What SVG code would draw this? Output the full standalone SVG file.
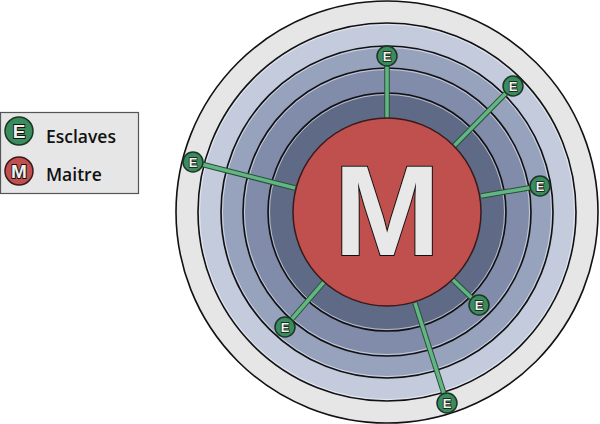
<svg xmlns="http://www.w3.org/2000/svg" width="600" height="424" viewBox="0 0 600 424">
<style>
.ring{stroke:#111;stroke-width:1.6}
.hl{fill:none;stroke:#fff;stroke-opacity:0.55;stroke-width:1}
.eNode{fill:#3b8c5c;stroke:#1c3526;stroke-width:1.5}
.mNode{fill:#c0504d;stroke:#3a1a1a;stroke-width:1.5}
.lnOut{stroke:#274f37;stroke-width:5.5;stroke-linecap:butt}
.lnIn{stroke:#63b584;stroke-width:3.5;stroke-linecap:butt}
.eTxt{font-family:"Liberation Sans",Arial,sans-serif;font-weight:bold;font-size:13px;fill:#f0f0f0;stroke:#111;stroke-width:1.4;text-anchor:middle;paint-order:stroke}
.lgTxt{font-family:"Open Sans","Liberation Sans",sans-serif;font-weight:600;font-size:17.5px;fill:#111}
</style>
<rect width="600" height="424" fill="#fff"/>
<g id="rings">
<circle class="ring" cx="387" cy="212" r="211" fill="#e6e6e6"/>
<circle class="ring" cx="387" cy="212" r="189" fill="#c4cbdd"/>
<circle class="hl" cx="387" cy="212" r="187.5"/>
<circle class="ring" cx="387" cy="212" r="166" fill="#97a2bd"/>
<circle class="hl" cx="387" cy="212" r="164.5"/>
<circle class="ring" cx="387" cy="212" r="144" fill="#808ca9"/>
<circle class="hl" cx="387" cy="212" r="142.5"/>
<circle class="ring" cx="387" cy="212" r="119" fill="#5f6a87"/>
<circle class="hl" cx="387" cy="212" r="117.5"/>
</g>
<g id="connectors">
<line class="lnOut" x1="387" y1="118" x2="387" y2="60"/>
<line class="lnIn" x1="387" y1="118" x2="387" y2="60"/>
<line class="lnOut" x1="454" y1="146" x2="513" y2="86"/>
<line class="lnIn" x1="454" y1="146" x2="513" y2="86"/>
<line class="lnOut" x1="481" y1="196" x2="540" y2="186"/>
<line class="lnIn" x1="481" y1="196" x2="540" y2="186"/>
<line class="lnOut" x1="295" y1="188" x2="193" y2="162"/>
<line class="lnIn" x1="295" y1="188" x2="193" y2="162"/>
<line class="lnOut" x1="324" y1="282" x2="285" y2="327"/>
<line class="lnIn" x1="324" y1="282" x2="285" y2="327"/>
<line class="lnOut" x1="452" y1="279" x2="479" y2="305"/>
<line class="lnIn" x1="452" y1="279" x2="479" y2="305"/>
<line class="lnOut" x1="415" y1="303" x2="447" y2="403"/>
<line class="lnIn" x1="415" y1="303" x2="447" y2="403"/>
</g>
<g id="maitre">
<circle class="mNode" cx="387" cy="212" r="94"/>
<text x="387" y="255" text-anchor="middle" font-family="'Liberation Sans',Arial,sans-serif" font-weight="bold" font-size="128" fill="#e8e8e8" stroke="#111" stroke-width="2" paint-order="stroke">M</text>
</g>
<g id="e1"><circle class="eNode" cx="387" cy="56" r="10"/><text class="eTxt" x="387" y="61">E</text></g>
<g id="e2"><circle class="eNode" cx="513" cy="86" r="10"/><text class="eTxt" x="513" y="91">E</text></g>
<g id="e3"><circle class="eNode" cx="540" cy="186" r="10"/><text class="eTxt" x="540" y="191">E</text></g>
<g id="e4"><circle class="eNode" cx="193" cy="162" r="10"/><text class="eTxt" x="193" y="167">E</text></g>
<g id="e5"><circle class="eNode" cx="285" cy="327" r="10"/><text class="eTxt" x="285" y="332">E</text></g>
<g id="e6"><circle class="eNode" cx="479" cy="305" r="10"/><text class="eTxt" x="479" y="310">E</text></g>
<g id="e7"><circle class="eNode" cx="447" cy="403" r="10"/><text class="eTxt" x="447" y="408">E</text></g>
<g id="legend">
<rect x="0.5" y="112.5" width="138" height="81" fill="#e6e6e6" stroke="#555" stroke-width="1.2"/>
<circle class="eNode" cx="19" cy="131" r="14"/>
<text class="eTxt" x="19" y="138" style="font-size:19px;stroke-width:1.8">E</text>
<circle class="mNode" cx="19" cy="171" r="14"/>
<text class="eTxt" x="19" y="178" style="font-size:19px;stroke-width:1.8">M</text>
<text class="lgTxt" x="46" y="143">Esclaves</text>
<text class="lgTxt" x="46" y="181">Maitre</text>
</g>
</svg>
